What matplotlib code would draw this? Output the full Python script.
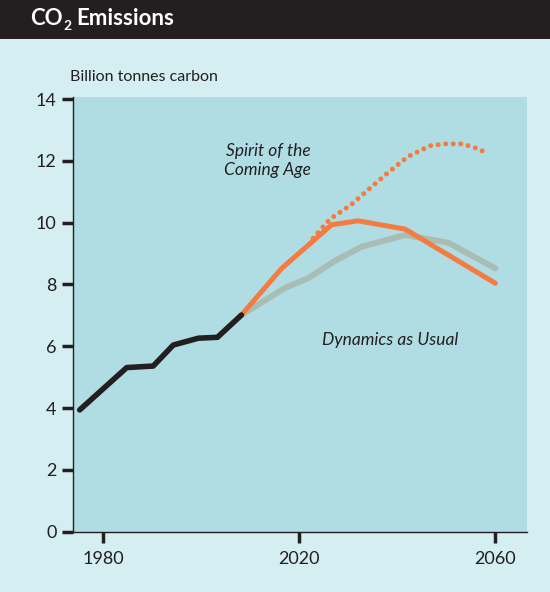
import matplotlib.pyplot as plt
from matplotlib.patches import Rectangle

# historico
hist_anos = [1975.2, 1984.8, 1990.2, 1994.3, 1999.4, 2003.3, 2008.2]
hist_vals = [3.94, 5.31, 5.36, 6.04, 6.26, 6.29, 7.01]

# Spirit of the Coming Age (linha solida)
spirit_anos = [2008.2, 2016.4, 2026.6, 2032.0, 2041.6, 2060.0]
spirit_vals = [7.01, 8.52, 9.93, 10.06, 9.79, 8.04]

# variante pontilhada
spirit_alt_anos = [2022.8, 2026.3, 2030.5, 2034.4, 2038.2, 2042.1, 2046.7, 2049.9, 2053.3, 2056.5, 2058.0]
spirit_alt_vals = [9.49, 10.12, 10.57, 11.11, 11.63, 12.13, 12.49, 12.55, 12.55, 12.39, 12.27]

# Dynamics as Usual
dyn_anos = [2008.2, 2017.0, 2021.8, 2027.0, 2032.7, 2041.6, 2050.4, 2060.0]
dyn_vals = [7.01, 7.88, 8.20, 8.74, 9.22, 9.60, 9.35, 8.52]

y_ticks = [0, 2, 4, 6, 8, 10, 12, 14]
x_ticks = [1980, 2020, 2060]

fundo = '#d4eef2'
area = '#afdde3'
laranja = '#f47c40'
cinza = '#a9bdb4'
preto = '#231f20'

plt.rcParams['font.family'] = ['Lato', 'DejaVu Sans']

fig = plt.figure(figsize=(5.5, 5.92), dpi=100)
fig.patch.set_facecolor(fundo)

# barra do titulo
fig.patches.append(Rectangle((0, 0.934), 1, 0.066, transform=fig.transFigure,
                             facecolor=preto, edgecolor='none'))
fig.text(0.055, 0.968, 'CO', color='white', fontsize=16,
         fontweight='bold', va='center', ha='left')
fig.text(0.116, 0.956, '2', color='white', fontsize=10,
         fontweight='bold', va='center', ha='left')
fig.text(0.138, 0.968, 'Emissions', color='white', fontsize=16,
         fontweight='bold', va='center', ha='left')

ax = fig.add_axes([0.1333, 0.1019, 0.8243, 0.7342])
ax.set_facecolor(area)

ax.plot(dyn_anos, dyn_vals, color=cinza, lw=4.3, solid_capstyle='round', zorder=2)
ax.plot(spirit_alt_anos, spirit_alt_vals, color=laranja, lw=3.6,
        linestyle=(0, (0.01, 1.5)), dash_capstyle='round', zorder=3)
ax.plot(spirit_anos, spirit_vals, color=laranja, lw=3.6, solid_capstyle='round',
        solid_joinstyle='miter', zorder=4)
ax.plot(hist_anos, hist_vals, color=preto, lw=4.0, solid_capstyle='round', zorder=5)

ax.set_xlim(1973.9, 2066.4)
ax.set_ylim(0, 14.065)
ax.set_xticks(x_ticks)
ax.set_yticks(y_ticks)
ax.tick_params(axis='both', colors=preto, labelsize=13, length=8, width=2.5, pad=6)
ax.tick_params(axis='y', pad=4)

for lado in ['top', 'right']:
    ax.spines[lado].set_visible(False)
for lado in ['left', 'bottom']:
    ax.spines[lado].set_color(preto)
    ax.spines[lado].set_linewidth(1.0)

fig.text(0.128, 0.87, 'Billion tonnes carbon', fontsize=11.5, color=preto, ha='left', va='center')

ax.text(2013.6, 12.0, 'Spirit of the\nComing Age', fontsize=12.5, style='italic',
        color=preto, ha='center', va='center', linespacing=1.25)
ax.text(2038.5, 6.2, 'Dynamics as Usual', fontsize=12.5, style='italic',
        color=preto, ha='center', va='center')

fig.savefig('out.png', dpi=100, facecolor=fundo)
